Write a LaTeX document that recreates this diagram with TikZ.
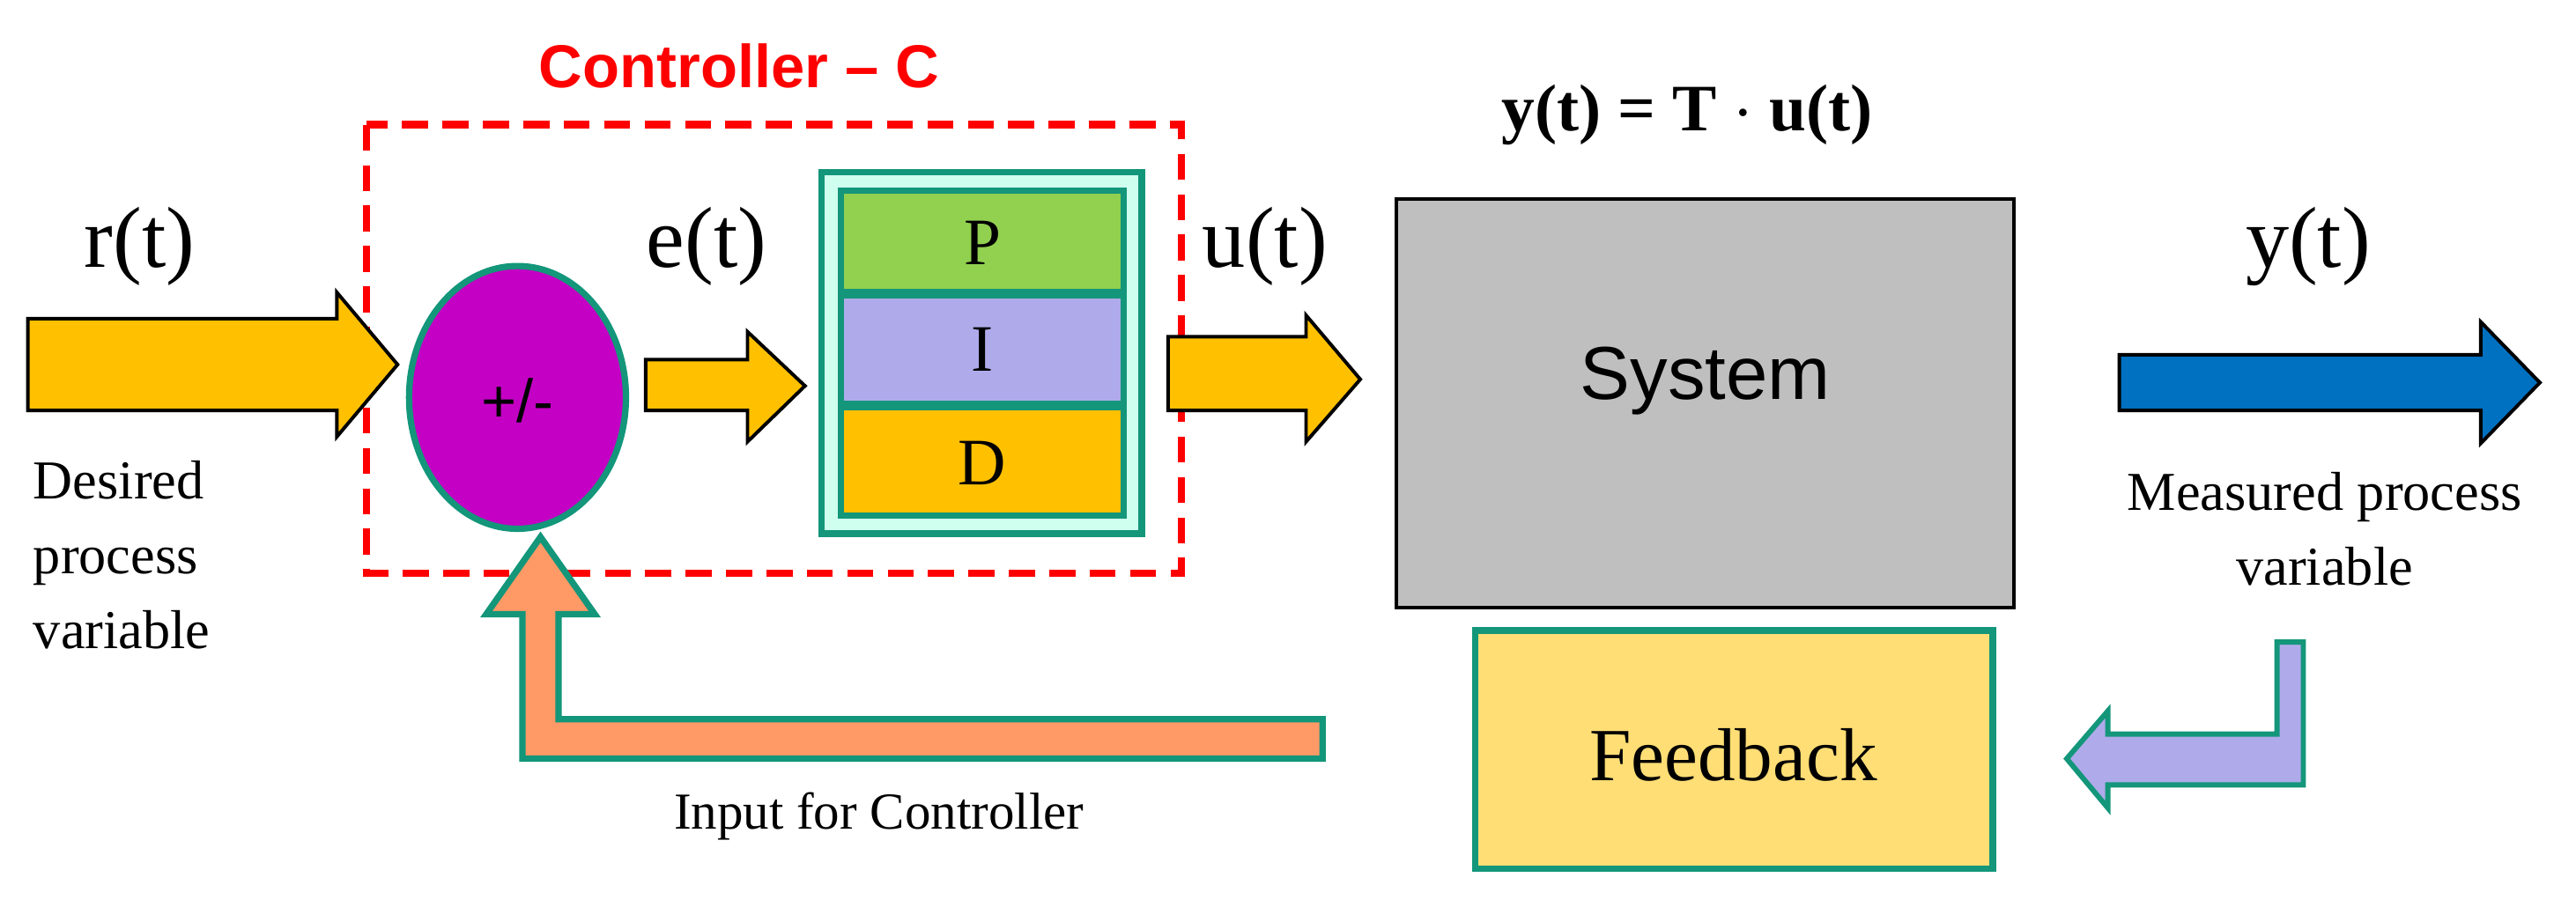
\documentclass[tikz,border=0pt]{standalone}
\usepackage{fontspec}
\setmainfont{Liberation Serif}
\newfontfamily\sans{Liberation Sans}
\begin{document}
\begin{tikzpicture}[x=0.02cm,y=-0.02cm,
  blk/.style={line width=1.2pt,draw=black},
  grn/.style={line width=2.2pt,draw=fbgreen},
  lbl/.style={font=\fontsize{30}{34}\selectfont,inner sep=0pt},
  desc/.style={font=\fontsize{19}{26}\selectfont,inner sep=0pt}]
\definecolor{fbgreen}{HTML}{13967A}
\definecolor{gold}{HTML}{FFC000}
\definecolor{pgreen}{HTML}{92D050}
\definecolor{lav}{HTML}{AFABEB}
\definecolor{purp}{HTML}{C400C4}
\definecolor{blu}{HTML}{0070C0}
\definecolor{salmon}{HTML}{FF9966}
\definecolor{fbfill}{HTML}{FFDE75}
\definecolor{mint}{HTML}{CFFFEF}
\useasboundingbox (0,0) rectangle (1568,552);
% controller box
\draw[red,line width=2.6pt,dash pattern=on 9pt off 5pt] (223,76) rectangle (719,349);
\node[red,font=\sans\bfseries\fontsize{21}{24}\selectfont] (ctitle) at (450,40) {Controller \textendash{} C};
% r(t) arrow
\filldraw[blk,fill=gold] (17,194) -- (205,194) -- (205,178) -- (242,222) -- (205,266) -- (205,250) -- (17,250) -- cycle;
\node[lbl] (rt) at (85,150) {r(t)};
\node[desc,align=left,anchor=north west] (des) at (20,280) {Desired\\process\\variable};
% summing circle
\filldraw[grn,fill=purp] (315,242) ellipse [x radius=66, y radius=80];
\node[font=\sans\fontsize{21}{24}\selectfont] (pm) at (315,244) {+/-};
% e(t)
\node[lbl] (et) at (430,150) {e(t)};
\filldraw[blk,fill=gold] (393,219) -- (455,219) -- (455,202) -- (490,235) -- (455,269) -- (455,250) -- (393,250) -- cycle;
% PID
\filldraw[grn,fill=mint] (500,105) rectangle (695,325);
\filldraw[grn,fill=pgreen] (512,116) rectangle (684,178);
\filldraw[grn,fill=lav] (512,180) rectangle (684,246);
\filldraw[grn,fill=gold] (512,248) rectangle (684,314);
\node[font=\fontsize{23}{26}\selectfont] (P) at (598,148) {P};
\node[font=\fontsize{23}{26}\selectfont] (I) at (598,213) {I};
\node[font=\fontsize{23}{26}\selectfont] (D) at (598,282) {D};
% u(t)
\node[lbl] (ut) at (770,150) {u(t)};
\filldraw[blk,fill=gold] (711,205) -- (795,205) -- (795,192) -- (828,231) -- (795,269) -- (795,250) -- (711,250) -- cycle;
% system
\filldraw[blk,fill=black!25] (850,121) rectangle (1226,370);
\node[font=\sans\fontsize{26}{30}\selectfont] (sys) at (1038,232) {System};
\node[font=\bfseries\fontsize{23}{26}\selectfont] (eq) at (1027,70) {y(t) = T $\cdot$ u(t)};
% y(t)
\node[lbl] (yt) at (1405,150) {y(t)};
\filldraw[blk,fill=blu] (1290,216) -- (1510,216) -- (1510,196) -- (1546,233) -- (1510,270) -- (1510,250) -- (1290,250) -- cycle;
\node[desc,align=center] (meas) at (1415,322) {Measured process\\variable};
% feedback
\filldraw[grn,fill=fbfill] (898,384) rectangle (1213,529);
\node[font=\fontsize{26}{30}\selectfont] (fb) at (1055,460) {Feedback};
% lavender arrow
\filldraw[grn,line width=1.8pt,fill=lav] (1386,391) -- (1402,391) -- (1402,478) -- (1283,478) -- (1283,492) -- (1258,462) -- (1283,433) -- (1283,447) -- (1386,447) -- cycle;
% salmon arrow
\filldraw[grn,fill=salmon] (805,438) -- (805,462) -- (318,462) -- (318,374) -- (296,374) -- (329,327) -- (362,374) -- (340,374) -- (340,438) -- cycle;
\node[font=\fontsize{18}{21}\selectfont] (inp) at (535,497) {Input for Controller};
\end{tikzpicture}
\end{document}
